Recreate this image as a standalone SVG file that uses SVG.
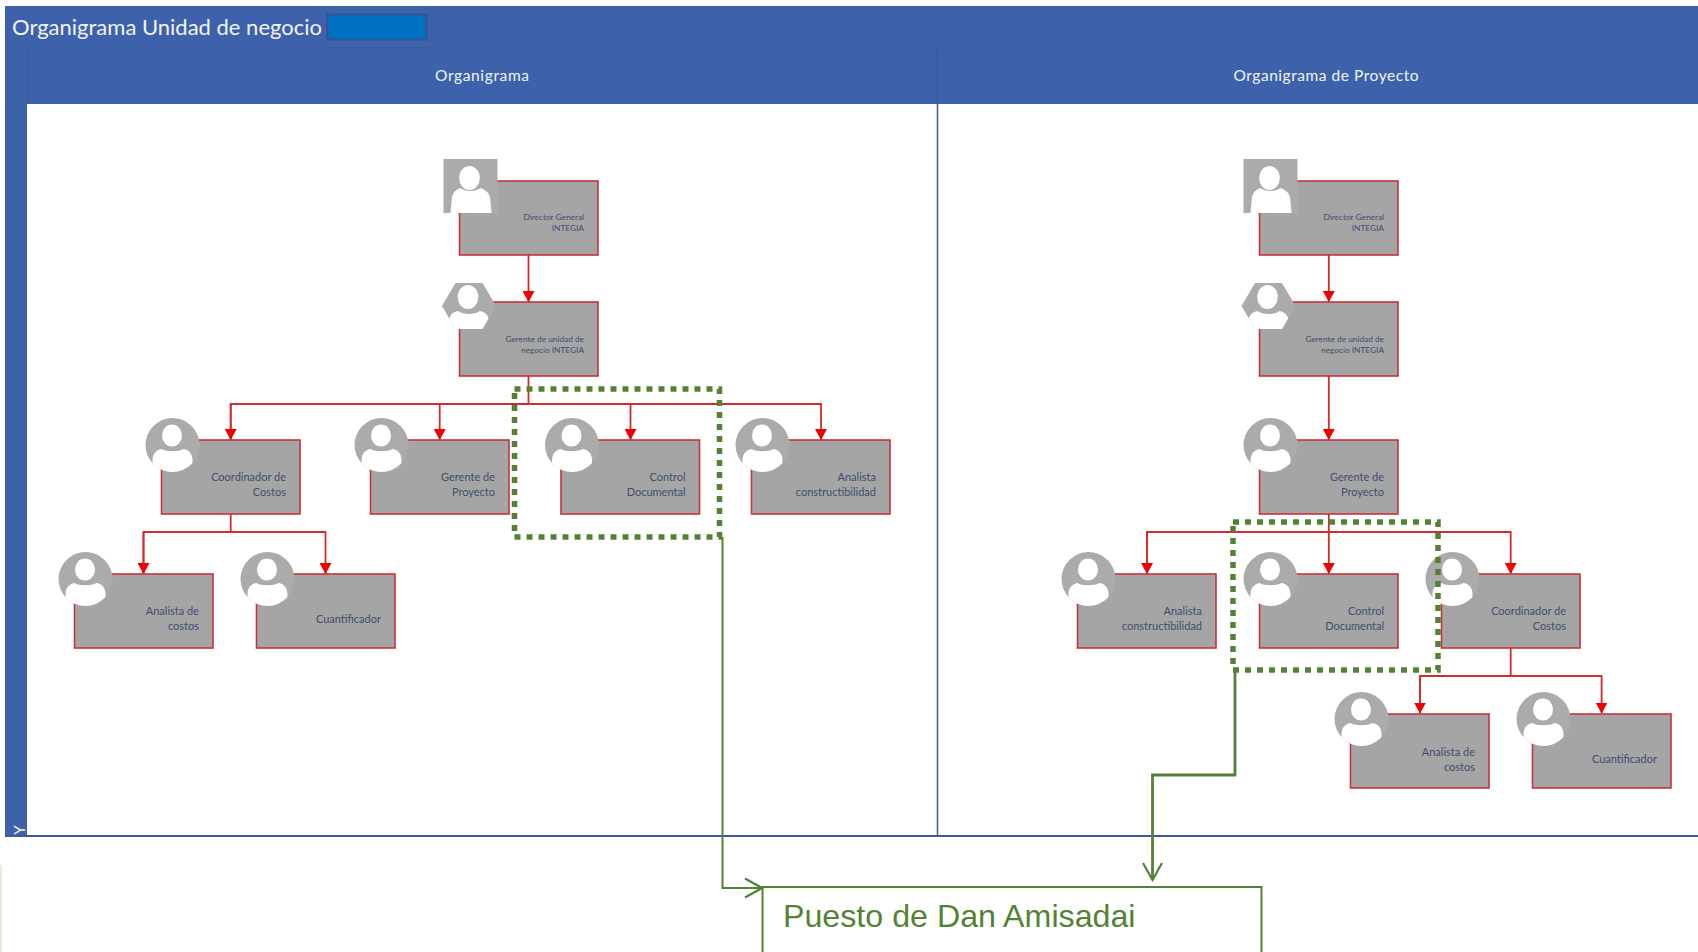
<svg xmlns="http://www.w3.org/2000/svg" width="1698" height="952" viewBox="0 0 1698 952">
<style>
.box{fill:#a5a5a5;stroke:#c8333a;stroke-width:1.6}
.ava{fill:#ababab}
.per{fill:#fff}
.t{font-family:"Lato","Liberation Sans",sans-serif;fill:#3f4d70;text-anchor:end;font-size:11px}
.s{font-size:8.300px}
.red{fill:none;stroke:#d42a2a;stroke-width:1.8}
.grn{fill:none;stroke:#548235;stroke-width:2}
.grn2{fill:none;stroke:#548235;stroke-width:2.800}
.dot{fill:none;stroke:#548235;stroke-width:5.500;stroke-dasharray:6 6}
.hd{font-family:"Lato","Liberation Sans",sans-serif;fill:#f2f4fa}
</style>
<defs>
<marker id="ra" markerUnits="userSpaceOnUse" markerWidth="12" markerHeight="12" refX="11" refY="6" orient="auto"><path d="M0 0L11 6L0 12z" fill="#f00000"/></marker>
<marker id="ga" markerUnits="userSpaceOnUse" markerWidth="20" markerHeight="24" refX="18" refY="11" orient="auto"><path d="M1 1.500L18 11L1 20.500" fill="none" stroke="#548235" stroke-width="2.200"/></marker>
<clipPath id="cc"><circle cx="0" cy="0" r="27"/></clipPath>
<clipPath id="cs"><rect x="-27" y="-27" width="54" height="54"/></clipPath>
<clipPath id="ch"><path d="M-27 0L-13.500 -23H13.500L27 0L13.500 23H-13.500z"/></clipPath>
<g id="pc"><circle class="ava" r="27"/><g clip-path="url(#cc)"><ellipse class="per" cx="-0.500" cy="-9.500" rx="10" ry="11"/><path class="per" d="M-20 16C-20 8 -16 5 -11 4C-7 7 6 7 11 4C17 5 20 9 20 16L20 40H-20z"/></g></g>
<g id="ps"><rect class="ava" x="-27" y="-27" width="54" height="54"/><g clip-path="url(#cs)"><ellipse class="per" cx="-1" cy="-8" rx="10.300" ry="12"/><path class="per" d="M-20 27L-18.500 11C-17 5 -13 3 -10 2C-6 6 5 6 10 2C15 4 18 6 19.500 11L21 27z"/></g></g>
<g id="ph"><path class="ava" d="M-27 0L-13.500 -23H13.500L27 0L13.500 23H-13.500z"/><g clip-path="url(#ch)"><ellipse class="per" cx="-1" cy="-9" rx="10.300" ry="12"/><path class="per" d="M-20 16C-20 9 -16 6 -11 5C-6 9 6 9 11 5C16 6 20 9 20 16L20 40H-20z"/></g></g>
</defs>
<rect width="1698" height="952" fill="#fff"/>
<g id="banner">
<rect x="5" y="6" width="1693" height="98" fill="#3d62ab"/>
<rect x="5" y="104" width="22" height="732" fill="#3d62ab"/>
<path d="M5 48H1698M27 48V104" stroke="#375a9c" stroke-width="1" fill="none"/>
<path d="M5 836H1698" stroke="#3a5a97" stroke-width="2" fill="none"/>
<path d="M937.500 48V836" stroke="#3a5a97" stroke-width="1.500" fill="none"/>
<rect x="327.500" y="14.500" width="99" height="25" fill="#0070c0" stroke="#2f5597" stroke-width="2"/>
<text class="hd" x="12" y="35" font-size="22" textLength="310" lengthAdjust="spacing">Organigrama Unidad de negocio</text>
<text class="hd" x="482" y="81" font-size="15.500" text-anchor="middle" textLength="94">Organigrama</text>
<text class="hd" x="1326" y="81" font-size="15.500" text-anchor="middle" textLength="185">Organigrama de Proyecto</text>
<rect x="0" y="865" width="2" height="87" fill="#e2efd9"/>
<text class="hd" x="0" y="0" font-size="15" text-anchor="middle" transform="translate(25 830) rotate(-90)">Y</text>
</g>
<g id="connectors">
<path class="red" d="M528.500 255V302" marker-end="url(#ra)"/>
<path class="red" d="M528.500 376V404"/>
<path class="red" d="M230.700 440V404H821V440" marker-end="url(#ra)"/>
<path class="red" d="M230.700 404V440" marker-end="url(#ra)"/>
<path class="red" d="M439.700 404V440" marker-end="url(#ra)"/>
<path class="red" d="M630.500 404V440" marker-end="url(#ra)"/>
<path class="red" d="M230.700 514V532"/>
<path class="red" d="M143.500 574V532H325.500V574" marker-end="url(#ra)"/>
<path class="red" d="M143.500 532V574" marker-end="url(#ra)"/>
<path class="red" d="M1328.800 255V302" marker-end="url(#ra)"/>
<path class="red" d="M1328.800 376V440" marker-end="url(#ra)"/>
<path class="red" d="M1328.800 514V574" marker-end="url(#ra)"/>
<path class="red" d="M1147 574V532H1510.700V574" marker-end="url(#ra)"/>
<path class="red" d="M1147 532V574" marker-end="url(#ra)"/>
<path class="red" d="M1510.700 648V676"/>
<path class="red" d="M1420 713.600V676H1601.600V713.600" marker-end="url(#ra)"/>
<path class="red" d="M1420 676V713.600" marker-end="url(#ra)"/>
</g>
<g id="n-dg1"><rect class="box" x="459.500" y="181" width="138.500" height="74"/><use href="#ps" x="470.500" y="186"/><text class="t s" x="584" y="220">Director General</text><text class="t s" x="584" y="231">INTEGIA</text></g>
<g id="n-gu1"><rect class="box" x="459.500" y="302" width="138.500" height="74"/><use href="#ph" x="469" y="306"/><text class="t s" x="584" y="342">Gerente de unidad de</text><text class="t s" x="584" y="353">negocio INTEGIA</text></g>
<g id="n-cc1"><rect class="box" x="161.500" y="440" width="138.500" height="74"/><use href="#pc" x="172.500" y="445"/><text class="t" x="286" y="481">Coordinador de</text><text class="t" x="286" y="496">Costos</text></g>
<g id="n-gp1"><rect class="box" x="370.500" y="440" width="138.500" height="74"/><use href="#pc" x="381.500" y="445"/><text class="t" x="495" y="481">Gerente de</text><text class="t" x="495" y="496">Proyecto</text></g>
<g id="n-cd1"><rect class="box" x="561" y="440" width="138.500" height="74"/><use href="#pc" x="572" y="445"/><text class="t" x="685.500" y="481">Control</text><text class="t" x="685.500" y="496">Documental</text></g>
<g id="n-ac1"><rect class="box" x="751.500" y="440" width="138.500" height="74"/><use href="#pc" x="762.500" y="445"/><text class="t" x="876" y="481">Analista</text><text class="t" x="876" y="496">constructibilidad</text></g>
<g id="n-ad1"><rect class="box" x="74.500" y="574" width="138.500" height="74"/><use href="#pc" x="85.500" y="579"/><text class="t" x="199" y="615">Analista de</text><text class="t" x="199" y="630">costos</text></g>
<g id="n-cu1"><rect class="box" x="256.500" y="574" width="138.500" height="74"/><use href="#pc" x="267.500" y="579"/><text class="t" x="381" y="623">Cuantificador</text></g>
<g id="n-dg2"><rect class="box" x="1259.500" y="181" width="138.500" height="74"/><use href="#ps" x="1270.500" y="186"/><text class="t s" x="1384" y="220">Director General</text><text class="t s" x="1384" y="231">INTEGIA</text></g>
<g id="n-gu2"><rect class="box" x="1259.500" y="302" width="138.500" height="74"/><use href="#ph" x="1268.500" y="306"/><text class="t s" x="1384" y="342">Gerente de unidad de</text><text class="t s" x="1384" y="353">negocio INTEGIA</text></g>
<g id="n-gp2"><rect class="box" x="1259.500" y="440" width="138.500" height="74"/><use href="#pc" x="1270.500" y="445"/><text class="t" x="1384" y="481">Gerente de</text><text class="t" x="1384" y="496">Proyecto</text></g>
<g id="n-ac2"><rect class="box" x="1077.500" y="574" width="138.500" height="74"/><use href="#pc" x="1088.500" y="579"/><text class="t" x="1202" y="615">Analista</text><text class="t" x="1202" y="630">constructibilidad</text></g>
<g id="n-cd2"><rect class="box" x="1259.500" y="574" width="138.500" height="74"/><use href="#pc" x="1270.500" y="579"/><text class="t" x="1384" y="615">Control</text><text class="t" x="1384" y="630">Documental</text></g>
<g id="n-cc2"><rect class="box" x="1441.500" y="574" width="138.500" height="74"/><use href="#pc" x="1452.500" y="579"/><text class="t" x="1566" y="615">Coordinador de</text><text class="t" x="1566" y="630">Costos</text></g>
<g id="n-ad2"><rect class="box" x="1350.500" y="714" width="138.500" height="74"/><use href="#pc" x="1361.500" y="719"/><text class="t" x="1475" y="756">Analista de</text><text class="t" x="1475" y="771">costos</text></g>
<g id="n-cu2"><rect class="box" x="1532.500" y="714" width="138.500" height="74"/><use href="#pc" x="1543.500" y="719"/><text class="t" x="1657" y="763">Cuantificador</text></g>
<g id="highlights">
<rect class="dot" x="514.500" y="389" width="205" height="148"/>
<rect class="dot" x="1233" y="522" width="205" height="148"/>
<path class="grn" d="M722.500 537V888H762" marker-end="url(#ga)"/>
<path class="grn2" d="M1235 670V775H1152.500V880" marker-end="url(#ga)"/>
</g>
<g id="n-puesto"><path class="grn" d="M762.500 952V887H1261.500V952"/><text x="783" y="927" font-family="Liberation Sans,Arial,sans-serif" font-size="32.200" fill="#548235">Puesto de Dan Amisadai</text></g>
</svg>
